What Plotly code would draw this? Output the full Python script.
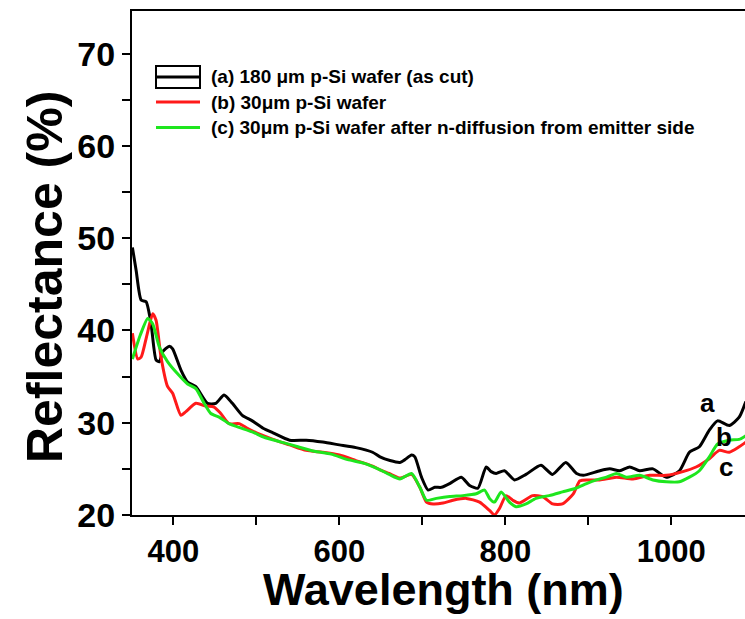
import plotly.graph_objects as go

# ---- data ----
wl_a = [350.5, 355, 361, 367, 373, 379, 383, 387, 395, 399, 409, 417, 427, 441, 451, 461, 471, 483, 495, 508,
        520, 540, 560, 580, 600, 620, 640, 649, 661, 673, 679, 687, 691, 699, 707, 715, 723, 733, 747, 757,
        767, 777, 783, 789, 799, 811, 825, 843, 857, 873, 886, 894, 914, 926, 938, 950, 962, 978, 994, 1010,
        1022, 1034, 1046, 1056, 1070, 1082, 1090]
refl_a = [49.0, 46.5, 43.3, 43.1, 40.7, 36.8, 36.6, 37.7, 38.3, 38.0, 35.7, 34.4, 33.9, 32.1, 32.1, 33.0, 32.1, 30.8, 30.2, 29.4,
          28.9, 28.1, 28.1, 27.9, 27.6, 27.3, 26.8, 26.3, 25.9, 25.7, 26.0, 26.5, 26.3, 24.1, 22.7, 23.0, 23.0, 23.4, 24.1, 23.2,
          22.9, 25.2, 24.7, 24.5, 24.8, 23.8, 24.4, 25.4, 24.4, 25.7, 24.5, 24.3, 24.8, 25.0, 24.8, 25.2, 24.8, 25.0, 24.1, 24.8,
          26.8, 27.4, 29.2, 30.2, 29.7, 30.6, 32.3]

wl_b = [350.5, 357, 361, 368, 375, 379, 385, 393, 399, 409, 415, 427, 439, 449, 457, 467, 479, 489, 500, 520,
        540, 560, 580, 600, 620, 640, 649, 660, 673, 687, 697, 705, 713, 725, 737, 753, 769, 781, 787, 793,
        801, 809, 817, 833, 845, 857, 869, 882, 890, 900, 914, 934, 954, 974, 994, 1014, 1030, 1046, 1058, 1070,
        1082, 1090]
refl_b = [39.7, 36.9, 37.1, 39.5, 41.8, 41.1, 37.1, 33.9, 33.2, 30.8, 31.2, 32.1, 31.8, 31.7, 31.0, 29.9, 29.9, 29.4, 28.9, 28.2,
          27.6, 27.0, 26.8, 26.5, 25.9, 25.3, 24.9, 24.5, 24.0, 24.4, 23.0, 21.4, 21.2, 21.3, 21.6, 21.8, 21.4, 20.5, 20.0, 20.7,
          22.1, 21.6, 21.3, 22.1, 22.0, 21.2, 21.2, 22.3, 23.7, 23.8, 23.8, 24.1, 23.9, 24.3, 24.3, 24.7, 25.2, 26.1, 27.0, 26.8,
          27.4, 27.9]

wl_c = [350.5, 360, 369, 375, 383, 393, 405, 417, 427, 437, 445, 455, 467, 479, 495, 510, 530, 550, 570, 590,
        610, 630, 649, 660, 673, 687, 697, 705, 717, 733, 749, 765, 775, 781, 787, 795, 805, 813, 825, 837,
        853, 869, 885, 898, 910, 922, 934, 946, 962, 978, 994, 1010, 1022, 1034, 1046, 1056, 1070, 1082, 1090]
refl_c = [36.9, 39.5, 41.3, 40.7, 38.2, 36.6, 35.3, 34.2, 33.7, 32.1, 31.0, 30.6, 29.9, 29.5, 29.0, 28.4, 27.9, 27.4, 26.9, 26.6,
          26.0, 25.6, 24.9, 24.4, 23.9, 24.5, 23.0, 21.6, 21.8, 22.0, 22.1, 22.3, 22.7, 21.8, 21.4, 22.5, 21.4, 20.9, 21.2, 21.8,
          22.1, 22.5, 22.9, 23.4, 23.8, 24.1, 24.5, 24.1, 24.3, 23.8, 23.6, 23.6, 24.1, 24.8, 26.3, 27.7, 28.1, 28.2, 28.6]

series_names = ["(a) 180 \u03bcm p-Si wafer (as cut)",
                "(b) 30\u03bcm p-Si wafer",
                "(c) 30\u03bcm p-Si wafer after n-diffusion from emitter side"]
series_colors = ["#000000", "#ff1a1a", "#1ee61e"]
curve_labels = ["a", "b", "c"]
label_wl = [1044, 1064, 1066]
label_refl = [32.1, 28.45, 25.2]

x_ticks = [400, 600, 800, 1000]
y_ticks = [20, 30, 40, 50, 60, 70]

FONT = "Liberation Sans, Arial, sans-serif"

# ---- figure geometry ----
W, H = 745, 619
ML, MR, MT, MB = 132, 0, 11, 104
PW, PH = W - ML - MR, H - MT - MB


def px(xp):
    return (xp - ML) / PW


def py(yp):
    return (H - MB - yp) / PH


fig = go.Figure()
for wl, rf, nm, col in zip([wl_a, wl_b, wl_c], [refl_a, refl_b, refl_c], series_names, series_colors):
    fig.add_trace(go.Scatter(x=wl, y=rf, mode="lines", name=nm,
                             line=dict(color=col, width=3, shape="spline", smoothing=0.6),
                             showlegend=False))

# curve letter labels
for t, xv, yv in zip(curve_labels, label_wl, label_refl):
    fig.add_annotation(x=xv, y=yv, text=t, showarrow=False, xref="x", yref="y",
                       font=dict(family=FONT, size=26, color="black", weight="bold"))

# manual legend (matches the Origin-style legend)
shapes = []
shapes.append(dict(type="rect", xref="paper", yref="paper",
                   x0=px(156), x1=px(200), y0=py(88), y1=py(66),
                   line=dict(color="black", width=2), fillcolor="rgba(0,0,0,0)"))
shapes.append(dict(type="line", xref="paper", yref="paper",
                   x0=px(156), x1=px(200), y0=py(77), y1=py(77),
                   line=dict(color="black", width=3)))
shapes.append(dict(type="line", xref="paper", yref="paper",
                   x0=px(156), x1=px(200), y0=py(102), y1=py(102),
                   line=dict(color=series_colors[1], width=3)))
shapes.append(dict(type="line", xref="paper", yref="paper",
                   x0=px(156), x1=px(200), y0=py(127.5), y1=py(127.5),
                   line=dict(color=series_colors[2], width=3)))
for nm, yy in zip(series_names, [77, 102, 127.5]):
    fig.add_annotation(x=px(209), y=py(yy), xref="paper", yref="paper", text=nm,
                       showarrow=False, xanchor="left", yanchor="middle",
                       font=dict(family=FONT, size=19, color="black", weight="bold"))

# axis titles placed as in the reference
fig.add_annotation(x=px(45), y=py(277), xref="paper", yref="paper", text="Reflectance (%)",
                   showarrow=False, textangle=-90, xanchor="center", yanchor="middle",
                   font=dict(family=FONT, size=50, color="black", weight="bold"))
fig.add_annotation(x=px(443), y=py(617), xref="paper", yref="paper", text="Wavelength (nm)",
                   showarrow=False, xanchor="center", yanchor="bottom",
                   font=dict(family=FONT, size=45, color="black", weight="bold"))

fig.update_layout(
    width=W, height=H, autosize=False,
    margin=dict(l=ML, r=MR, t=MT, b=MB, pad=0),
    paper_bgcolor="white", plot_bgcolor="white",
    shapes=shapes,
    showlegend=False,
)

fig.update_xaxes(
    range=[350, 350 + PW / 0.8295],
    tickvals=x_ticks, ticktext=[str(v) for v in x_ticks],
    ticks="outside", ticklen=8, tickwidth=2, tickcolor="black",
    minor=dict(tickvals=[500, 700, 900], ticks="outside", ticklen=8, tickwidth=2, tickcolor="black"),
    showline=True, linewidth=2, linecolor="black", mirror=True,
    showgrid=False, zeroline=False,
    ticklabelstandoff=0,
    tickfont=dict(family=FONT, size=31, color="black", weight="bold"),
)
fig.update_yaxes(
    range=[20, 20 + PH / 9.228],
    tickvals=y_ticks, ticktext=[str(v) for v in y_ticks],
    ticks="outside", ticklen=8, tickwidth=2, tickcolor="black",
    minor=dict(tickvals=[25, 35, 45, 55, 65], ticks="outside", ticklen=8, tickwidth=2, tickcolor="black"),
    showline=True, linewidth=2, linecolor="black", mirror=False,
    showgrid=False, zeroline=False,
    tickfont=dict(family=FONT, size=34, color="black", weight="bold"),
)

fig.write_html("out.html")
